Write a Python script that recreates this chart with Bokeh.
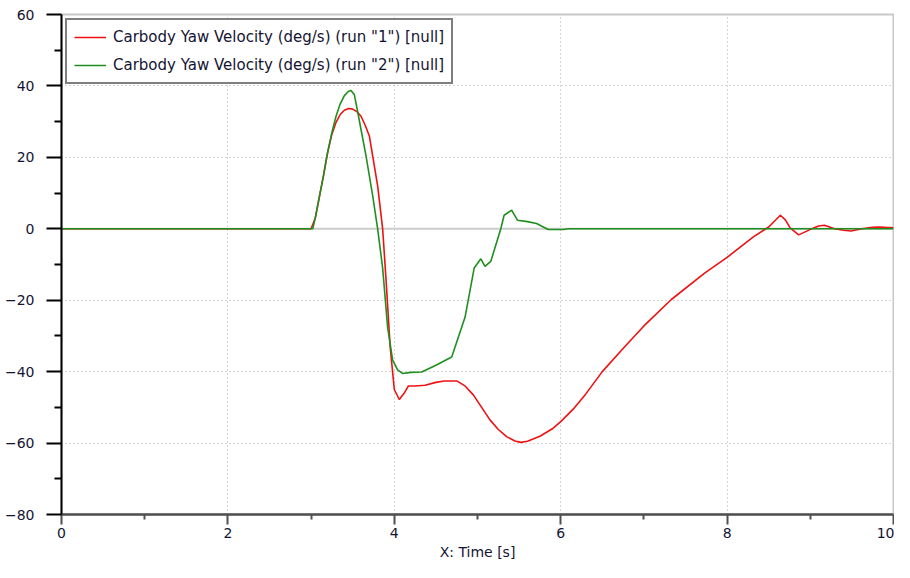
from bokeh.plotting import figure
from bokeh.models import Range1d, Span, Legend, LegendItem, FixedTicker
from bokeh.embed import file_html
from bokeh.resources import INLINE

# ---- data ----
time_run1 = [0, 3.0, 3.05, 3.1, 3.15, 3.2, 3.25, 3.3, 3.35, 3.4, 3.45, 3.5, 3.55, 3.6, 3.65,
             3.7, 3.74, 3.8, 3.86, 3.9, 3.95, 4.0, 4.06, 4.12, 4.17, 4.25, 4.37, 4.5, 4.6,
             4.75, 4.85, 4.95, 5.05, 5.15, 5.25, 5.35, 5.45, 5.52, 5.6, 5.75, 5.9, 6.0,
             6.15, 6.3, 6.5, 6.75, 7.0, 7.33, 7.73, 8.0, 8.32, 8.5, 8.64, 8.7, 8.76, 8.86,
             8.99, 9.1, 9.17, 9.29, 9.4, 9.49, 9.62, 9.75, 9.82, 9.9, 10.0]
yaw_run1 = [0, 0, 3, 9, 15, 21.5, 26.5, 29.8, 32, 33.2, 33.7, 33.5, 32.8, 31.5, 29,
            26, 20.4, 12, 0, -14, -33, -45, -47.8, -46, -44, -44, -43.8, -43, -42.6,
            -42.6, -44, -46.5, -50, -53.5, -56.2, -58.2, -59.4, -59.8, -59.5, -58.1, -56, -54,
            -50.5, -46.3, -40, -33.5, -27.2, -19.8, -12.4, -8.0, -2.2, 0.5, 3.8, 2.5, 0.2, -1.7,
            -0.3, 0.8, 1.0, 0.0, -0.4, -0.6, 0.0, 0.4, 0.5, 0.4, 0.3]

time_run2 = [0, 3.02, 3.05, 3.1, 3.15, 3.19, 3.25, 3.3, 3.35, 3.4, 3.45, 3.48, 3.52, 3.54,
             3.6, 3.66, 3.74, 3.8, 3.86, 3.92, 3.98, 4.04, 4.1, 4.2, 4.33, 4.5, 4.69,
             4.85, 4.96, 5.04, 5.09, 5.16, 5.28, 5.32, 5.41, 5.48, 5.6, 5.71, 5.85, 6.03,
             6.1, 10.0]
yaw_run2 = [0, 0, 3, 9, 15, 20.4, 27, 31.5, 35, 37.3, 38.5, 38.7, 37.5, 35.2,
            27.8, 20.4, 9.3, 0, -11, -27.6, -36.8, -39.5, -40.5, -40.2, -40.1, -38.2, -35.9,
            -24.8, -11, -8.4, -10.5, -9.1, 0, 3.8, 5.2, 2.4, 2.0, 1.5, -0.2, -0.2,
            0, 0]

x_ticks = [0, 2, 4, 6, 8, 10]
y_ticks = [-80, -60, -40, -20, 0, 20, 40, 60]
label_run1 = 'Carbody Yaw Velocity (deg/s) (run "1") [null]'
label_run2 = 'Carbody Yaw Velocity (deg/s) (run "2") [null]'

FONT = "DejaVu Sans"

p = figure(width=894, height=562, output_backend="svg", toolbar_location=None,
           x_range=Range1d(0, 10), y_range=Range1d(-80, 60),
           min_border_left=61, min_border_right=1, min_border_top=14, min_border_bottom=43)
p.background_fill_color = "white"
p.border_fill_color = "white"
p.outline_line_color = "#c8c8c8"
p.outline_line_width = 2

# grids
for g in (p.xgrid, p.ygrid):
    g.grid_line_color = "#aaaaaa"
    g.grid_line_dash = "1 3"
    g.grid_line_width = 1
p.xgrid.ticker = FixedTicker(ticks=x_ticks)
p.ygrid.ticker = FixedTicker(ticks=y_ticks)

# zero line
p.add_layout(Span(location=0, dimension="width", line_color="#cccccc", line_width=2, level="underlay"))

# axes
p.xaxis.ticker = FixedTicker(ticks=x_ticks, minor_ticks=[1, 3, 5, 7, 9])
p.yaxis.ticker = FixedTicker(ticks=y_ticks, minor_ticks=[-70, -50, -30, -10, 10, 30, 50])
p.xaxis.axis_label = "X: Time [s]"
for ax in (p.xaxis, p.yaxis):
    ax.major_label_text_font = FONT
    ax.major_label_text_font_size = "14px"
    ax.major_label_text_color = "#141432"
    ax.axis_label_text_font = FONT
    ax.axis_label_text_font_size = "14px"
    ax.axis_label_text_font_style = "normal"
    ax.axis_label_text_color = "#141432"
    ax.major_tick_in = 0
    ax.minor_tick_in = 0
p.yaxis.axis_line_color = "black"
p.yaxis.axis_line_width = 2
p.yaxis.major_tick_line_color = "black"
p.yaxis.major_tick_line_width = 2
p.yaxis.minor_tick_line_color = "black"
p.yaxis.minor_tick_line_width = 2
p.yaxis.major_tick_out = 15
p.yaxis.minor_tick_out = 7
p.yaxis.major_label_standoff = 12

p.xaxis.axis_line_color = "#505050"
p.xaxis.axis_line_width = 2.5
p.xaxis.major_tick_line_color = "#505050"
p.xaxis.major_tick_line_width = 2
p.xaxis.minor_tick_line_color = "#505050"
p.xaxis.minor_tick_line_width = 2
p.xaxis.major_tick_out = 10
p.xaxis.minor_tick_out = 5
p.xaxis.major_label_standoff = 3
p.xaxis.axis_label_standoff = 3

r1 = p.line(time_run1, yaw_run1, line_color="#ee1111", line_width=1.6)
r2 = p.line(time_run2, yaw_run2, line_color="#1f8f1f", line_width=1.6)

legend = Legend(items=[LegendItem(label=label_run1, renderers=[r1]),
                       LegendItem(label=label_run2, renderers=[r2])],
                location="top_left")
legend.margin = 4
legend.padding = 7
legend.spacing = 8
legend.glyph_width = 32
legend.glyph_height = 20
legend.label_height = 20
legend.label_standoff = 7
legend.label_text_font = FONT
legend.label_text_font_size = "15px"
legend.label_text_color = "#141432"
legend.border_line_color = "black"
legend.border_line_width = 2
legend.background_fill_color = "white"
legend.background_fill_alpha = 1
p.add_layout(legend)

open("out.html", "w").write(file_html(p, INLINE))
